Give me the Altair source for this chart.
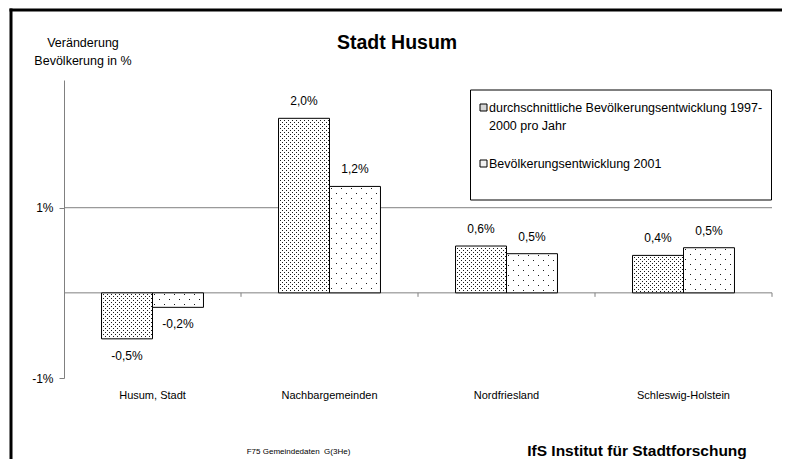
import altair as alt
import pandas as pd

# ---- data ----
categories = ["Husum, Stadt", "Nachbargemeinden", "Nordfriesland", "Schleswig-Holstein"]
series_names = ["durchschnittliche Bevölkerungsentwicklung 1997-2000 pro Jahr",
                "Bevölkerungsentwicklung 2001"]
avg_1997_2000 = [-0.54, 2.05, 0.55, 0.44]
change_2001 = [-0.17, 1.25, 0.46, 0.53]
labels_avg = ["-0,5%", "2,0%", "0,6%", "0,4%"]
labels_2001 = ["-0,2%", "1,2%", "0,5%", "0,5%"]
y_ticks = [-1, 1]

rows = []
for i, c in enumerate(categories):
    rows.append({"cat": c, "series": series_names[0], "value": avg_1997_2000[i], "label": labels_avg[i]})
    rows.append({"cat": c, "series": series_names[1], "value": change_2001[i], "label": labels_2001[i]})
df = pd.DataFrame(rows)

FONT = "Liberation Sans"
W, H = 708, 298
Y_MIN, Y_MAX = -1, 2.5
P_IN, P_OUT = 0.424, 0.212

x_enc = alt.X("cat:N", sort=categories,
              scale=alt.Scale(paddingInner=P_IN, paddingOuter=P_OUT),
              axis=alt.Axis(title=None, domain=False, ticks=False, tickSize=0,
                            labelPadding=11, labelFontSize=11, labelColor="black",
                            labelFont=FONT, labelAngle=0))
xoff = alt.XOffset("series:N", sort=series_names)
y_scale = alt.Scale(domain=[Y_MIN, Y_MAX], nice=False, zero=False)
y_axis = alt.Axis(title=None, values=y_ticks, labelExpr="datum.value + '%'", grid=False,
                  domainColor="#808080", tickColor="#808080", tickSize=5, labelPadding=6,
                  labelFontSize=12, labelFont=FONT, labelColor="black")
y_enc = alt.Y("value:Q", scale=y_scale, axis=y_axis)

base = alt.Chart(df)
bars = base.mark_bar(stroke="black", strokeWidth=1, fill="white").encode(
    x=x_enc, xOffset=xoff, y=y_enc)

lab_pos = base.transform_filter("datum.value >= 0").mark_text(
    dy=-17, fontSize=12, font=FONT, color="black", baseline="middle").encode(
    x=x_enc, xOffset=xoff, y=y_enc, text="label:N")
lab_neg = base.transform_filter("datum.value < 0").mark_text(
    dy=17, fontSize=12, font=FONT, color="black", baseline="middle").encode(
    x=x_enc, xOffset=xoff, y=y_enc, text="label:N")

one = pd.DataFrame({"k": [0]})
zero_rule = alt.Chart(one).mark_rule(color="#808080", strokeWidth=1).encode(
    y=alt.Y(datum=0, type="quantitative", scale=y_scale, axis=y_axis))
grid_rule = alt.Chart(one).mark_rule(color="#808080", strokeWidth=1).encode(
    y=alt.Y(datum=1, type="quantitative", scale=y_scale, axis=y_axis))

main = alt.layer(grid_rule, zero_rule, bars, lab_pos, lab_neg)

# ---- dot texture inside the bars (derived from the same bar data) ----
step = W / (len(categories) - P_IN + 2 * P_OUT)
bw = step * (1 - P_IN) / 2
ppu = H / (Y_MAX - Y_MIN)
cat_list = "[" + ",".join("'" + c + "'" for c in categories) + "]"
dots = base.transform_calculate(
    ci=f"indexof({cat_list}, datum.cat)",
    si=f"datum.series === '{series_names[0]}' ? 0 : 1",
).transform_calculate(
    bx0=f"datum.ci * {step} + {step * P_OUT} + datum.si * {bw}",
    top=f"({Y_MAX} - max(datum.value, 0)) * {ppu}",
    bot=f"({Y_MAX} - min(datum.value, 0)) * {ppu}",
    sx="datum.si === 0 ? 4 : 10",
    sy="datum.si === 0 ? 2 : 5",
).transform_calculate(
    rws="sequence(ceil(datum.top) + 1, datum.bot - 1, datum.sy)"
).transform_flatten(["rws"], as_=["r"]).transform_calculate(
    off="(round((datum.r - ceil(datum.top) - 1) / datum.sy) % 2) * datum.sx / 2"
).transform_calculate(
    cls=f"sequence(ceil(datum.bx0) + 1 + datum.off, datum.bx0 + {bw} - 1, datum.sx)"
).transform_flatten(["cls"], as_=["c"]).transform_calculate(
    cx="datum.c + 0.5", cy="datum.r + 0.5"
).mark_square(size=1, color="#1a1a1a", opacity=1).encode(
    x=alt.X("cx:Q", scale=alt.Scale(domain=[0, W], nice=False, zero=False), axis=None),
    y=alt.Y("cy:Q", scale=alt.Scale(domain=[H, 0], nice=False, zero=False), axis=None),
)


def deco_rule(x, x2, y, y2, color="black", sw=1):
    return alt.Chart(one).mark_rule(color=color, strokeWidth=sw).encode(
        x=alt.value(x), x2=alt.value(x2), y=alt.value(y), y2=alt.value(y2))


def deco_text(txt, x, y, size=12, weight="normal", align="center"):
    return alt.Chart(one).mark_text(fontSize=size, fontWeight=weight, font=FONT,
                                    color="black", align=align, baseline="middle").encode(
        x=alt.value(x), y=alt.value(y), text=alt.value(txt))


# category boundary ticks on zero line
zy = H * (Y_MAX / (Y_MAX - Y_MIN))
bticks = [deco_rule(W / 4 * i, W / 4 * i, zy, zy + 4, color="#808080") for i in range(1, 5)]

# legend box
legend_box = alt.Chart(one).mark_rect(fill="white", stroke="black", strokeWidth=1).encode(
    x=alt.value(406.5), x2=alt.value(707.5), y=alt.value(10), y2=alt.value(120))
sym1 = alt.Chart(one).mark_rect(fill="#d6d6d6", stroke="black", strokeWidth=1).encode(
    x=alt.value(416), x2=alt.value(423), y=alt.value(24), y2=alt.value(31))
sym2 = alt.Chart(one).mark_rect(fill="#f2f2f2", stroke="black", strokeWidth=1).encode(
    x=alt.value(416), x2=alt.value(423), y=alt.value(80), y2=alt.value(87))
leg_t1 = deco_text("durchschnittliche Bevölkerungsentwicklung 1997-", 425, 28, size=12.5, align="left")
leg_t2 = deco_text("2000 pro Jahr", 425, 46, size=12.5, align="left")
leg_t3 = deco_text("Bevölkerungsentwicklung 2001", 425, 84, size=12.5, align="left")

title = deco_text("Stadt Husum", 333, -37, size=19.5, weight="bold")
ytitle1 = deco_text("Veränderung", 19, -37, size=12.5)
ytitle2 = deco_text("Bevölkerung in %", 19, -19, size=12.5)
foot1 = deco_text("F75 Gemeindedaten\u00a0 G(3He)", 234.5, 372, size=8)
foot2 = deco_text("IfS Institut für Stadtforschung", 573, 371, size=15.5, weight="bold")

# page borders (top and left only)
border_top = deco_rule(-54.5, 730, -70, -70, sw=3)
border_left = deco_rule(-53, -53, -71.5, 400, sw=3)

chart = alt.layer(
    main, dots, *bticks,
    legend_box, sym1, sym2, leg_t1, leg_t2, leg_t3,
    title, ytitle1, ytitle2, foot1, foot2, border_top, border_left
).resolve_scale(x="independent", y="independent").properties(
    width=W, height=H,
    autosize=alt.AutoSizeParams(type="none"),
    padding={"left": 56, "top": 72, "right": 10, "bottom": 81},
    background="white",
).configure_view(stroke=None)

chart.save("out.html", embed_options={"renderer": "svg", "actions": False})
